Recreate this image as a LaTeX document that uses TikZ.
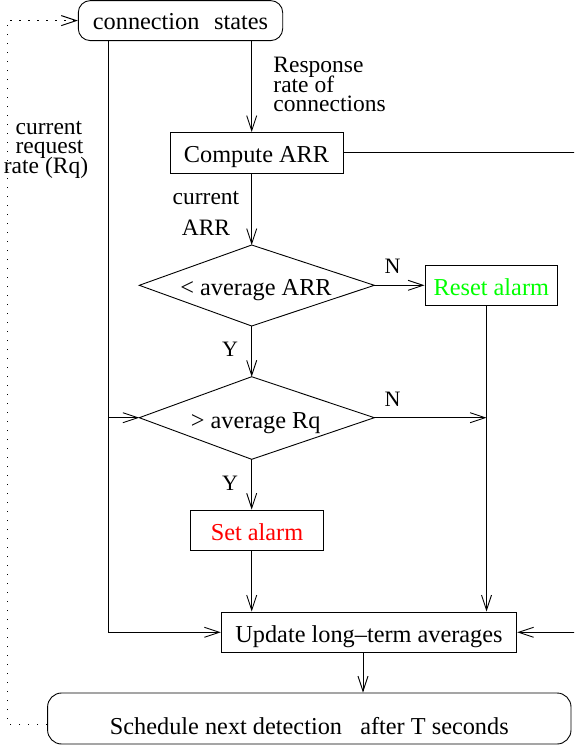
\documentclass[tikz,border=0pt]{standalone}
\usepackage{fontspec}
\setmainfont{Liberation Serif}
\usetikzlibrary{arrows.meta}
\definecolor{figgreen}{RGB}{0,255,0}
\definecolor{figred}{RGB}{255,0,0}
\begin{document}
\begin{tikzpicture}[x=1pt,y=-1pt,
  line width=0.9pt,
  every node/.style={inner sep=0pt, font=\fontsize{24.3}{20}\selectfont},
  box/.style={draw, minimum height=40.7pt, text height=20pt, text depth=0pt},
  arr/.style={-{Straight Barb[length=15pt,width=10pt]}},
  dotline/.style={dash pattern=on 1.5pt off 7.5pt, line width=1pt},
  lbl/.style={anchor=base, font=\fontsize{23.5}{19}\selectfont},
  yn/.style={anchor=base, font=\fontsize{22}{20}\selectfont},
]
\clip (0,0) rectangle (574,748);

% helper x positions
\coordinate (lx) at (108.5,0);
\coordinate (fx) at (251.7,0);
\coordinate (rx) at (486.5,0);
\coordinate (bx) at (363,0);
\coordinate (dl) at (7,724);

% boxes
\node[draw, rounded corners=12pt, minimum width=204.4pt, minimum height=40pt,
      text height=18pt, text depth=0pt] (cs) at (180.5,20.6) {connection\hspace{0.6em}states};
\node[box, minimum width=173pt] (compute) at (256.5,152.8) {Compute ARR};
\node[box, minimum width=132.7pt, text=figgreen] (reset) at (491.3,285.5) {Reset alarm};
\node[box, minimum width=132.6pt, text=figred] (set) at (257,530.4) {Set alarm};
\node[box, minimum width=295.5pt] (update) at (369,632.3) {Update long--term averages};
\node[draw, rounded corners=14pt, minimum width=523.4pt, minimum height=51pt,
      text height=31pt, text depth=0pt] (sched) at (309.3,718.5)
      {Schedule next detection\hspace{0.75em}after T seconds};

% diamonds
\coordinate (d1l) at (139.3,285.3);
\coordinate (d1t) at (251.7,245);
\coordinate (d1r) at (374.3,285.3);
\coordinate (d1b) at (251.7,326);
\coordinate (d2l) at (139.3,417.7);
\coordinate (d2t) at (251.7,376.7);
\coordinate (d2r) at (374.3,417.7);
\coordinate (d2b) at (251.7,459.3);
\draw (d1l) -- (d1t) -- (d1r) -- (d1b) -- cycle;
\draw (d2l) -- (d2t) -- (d2r) -- (d2b) -- cycle;
\node[anchor=base] (d1text) at (256,295.7) {< average ARR};
\node[anchor=base] (d2text) at (255.7,428.3) {> average Rq};

% labels
\node[lbl, anchor=base west] (resp1) at (273,72.5) {Response};
\node[lbl, anchor=base west] (resp2) at (273,92.5) {rate of};
\node[lbl, anchor=base west] (resp3) at (273,111.5) {connections};
\node[lbl] (cur1) at (49,134) {current};
\node[lbl] (cur2) at (49.5,153.5) {request};
\node[lbl] (cur3) at (46,173) {rate (Rq)};
\node[lbl] (arr1) at (206,204) {current};
\node[lbl] (arr2) at (206,235.5) {ARR};
\node[yn] (n1) at (392.5,273.3) {N};
\node[yn] (n2) at (392.5,406.7) {N};
\node[yn] (y1) at (230,356.7) {Y};
\node[yn] (y2) at (230,490.5) {Y};

% connectors
\draw[arr] (cs.south -| fx) -- (compute.north -| fx);
\draw[arr] (compute.south -| fx) -- (d1t);
\draw[arr] (d1b) -- (d2t);
\draw[arr] (d2b) -- (set.north -| fx);
\draw[arr] (set.south -| fx) -- (update.north -| fx);
\draw[arr] (d1r) -- (d1r -| reset.west);
\draw[arr] (reset.south -| rx) -- (update.north -| rx);
\draw[arr] (d2r) -- (d2r -| rx);
\draw[arr] (cs.south -| lx) |- (update.west);
\draw[arr] (d2l -| lx) -- (d2l);
\draw[arr] (compute.east) -- ++(250,0) |- (update.east);
\draw[arr] (update.south -| bx) -- (sched.north -| bx);
\draw[dotline, arr] (sched.west |- dl) -- (dl) |- (cs.west);
\end{tikzpicture}
\end{document}
